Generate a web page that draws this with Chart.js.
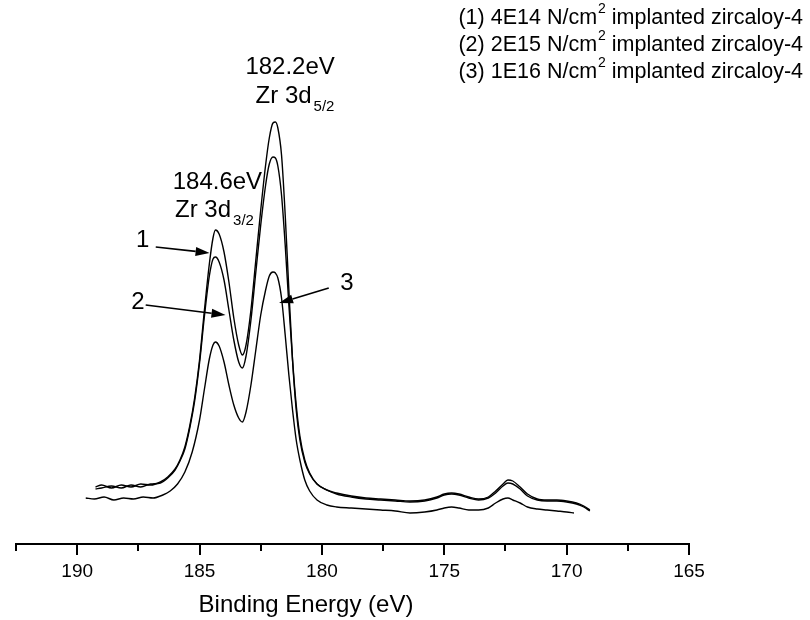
<!DOCTYPE html>
<html><head><meta charset="utf-8">
<script src="https://cdn.jsdelivr.net/npm/chart.js@4/dist/chart.umd.min.js"></script>
<style>html,body{margin:0;padding:0;background:#fff}</style>
</head><body>
<canvas id="c" width="810" height="620"></canvas>
<script>
// Binding energy (eV) grid for spectra 1 and 2
const energy12 = [189.25,189.0,188.6,188.2,187.8,187.4,187.0,186.6,186.3,186.0,185.8,185.6,185.4,185.2,185.0,184.8,184.6,184.45,184.35,184.2,184.0,183.8,183.6,183.4,183.25,183.1,182.9,182.7,182.5,182.3,182.15,182.0,181.9,181.8,181.65,181.5,181.35,181.2,181.05,180.9,180.7,180.5,180.2,179.8,179.4,178.8,178.2,177.6,177.0,176.4,175.8,175.3,175.0,174.7,174.4,174.0,173.6,173.2,172.9,172.6,172.4,172.2,171.9,171.6,171.2,170.8,170.4,170.0,169.6,169.3,169.05];
// (1) 4E14 N/cm2 intensity (a.u.)
const intensity1 = [57,59,56,59,57,60,59,62,67,75,84,97,118,146,184,234,280,306,314,310,292,262,226,199,189,199,234,284,334,379,406,421,422,416,389,329,254,184,134,104,82,70,60,54,51,48,46,45,44,43,44,47,50,51,50,47,45,47,53,60,64,63,57,50,45,44,44,43,41,38,34];
// (2) 2E15 N/cm2 intensity (a.u.)
const intensity2 = [55,56,58,56,59,57,60,61,66,74,83,95,116,143,181,228,268,285,287,282,264,234,204,182,176,188,224,272,319,359,380,387,386,378,349,299,239,184,139,108,84,71,60,54,50,47,45,44,43,42,43,46,49,50,49,46,44,46,51,58,61,60,55,48,44,43,43,42,40,37,33];
// Binding energy grid for spectrum 3
const energy3 = [189.65,189.3,188.9,188.5,188.1,187.7,187.3,186.9,186.5,186.2,185.9,185.6,185.3,185.0,184.8,184.6,184.45,184.35,184.2,184.0,183.8,183.6,183.4,183.25,183.1,182.9,182.7,182.5,182.3,182.15,182.0,181.9,181.8,181.65,181.5,181.35,181.2,181.05,180.9,180.7,180.5,180.2,179.8,179.4,178.8,178.2,177.6,177.0,176.4,175.8,175.3,175.0,174.7,174.4,174.0,173.6,173.2,172.9,172.6,172.4,172.2,171.9,171.6,171.2,170.8,170.4,170.0,169.7];
// (3) 1E16 N/cm2 intensity (a.u.)
const intensity3 = [46,45,47,44,46,45,47,46,49,53,60,72,92,124,155,185,199,202,198,182,159,139,126,122,132,159,194,229,254,268,272,271,266,246,209,169,134,104,84,64,53,44,39,37,36,35,34,33,31,32,34,36,37,36,34,34,36,41,45,46,44,41,37,35,34,33,32,31];

const xMajorTicks = [190,185,180,175,170,165];
const xMinorTicks = [192.5,187.5,182.5,177.5,172.5,167.5];
const xLimits = [165,192.5];
const yLimits = [0,540];
const doses = ['4E14','2E15','1E16'];
const xTitle = 'Binding Energy (eV)';

const FONT = '"Liberation Sans", Arial, Helvetica, sans-serif';

function toPts(xs, ys){ return xs.map((x,i)=>({x:x, y:ys[i]})); }

// annotations in data coordinates
const peakLabels = [
  {e:181.30, v:477, text:'182.2eV'},
  {e:181.10, v:448, text:'Zr 3d', sub:'5/2'},
  {e:184.27, v:362, text:'184.6eV'},
  {e:184.39, v:334, text:'Zr 3d', sub:'3/2'}
];
const arrows = [
  {label:'1', le:187.32, lv:304, from:[186.79,297], to:[184.59,291]},
  {label:'2', le:187.52, lv:242, from:[187.20,239], to:[183.94,229]},
  {label:'3', le:178.98, lv:261, from:[179.72,256], to:[181.75,241]}
];

const annot = {
  id:'annot',
  afterDraw(chart){
    const ctx = chart.ctx, xs = chart.scales.x, ys = chart.scales.y;
    ctx.save();
    // axis ticks (major + minor)
    ctx.strokeStyle = '#000'; ctx.lineWidth = 2;
    const top = xs.top;
    xs.ticks.forEach(t=>{
      const px = Math.round(xs.getPixelForValue(t.value));
      const major = xMajorTicks.includes(t.value);
      ctx.beginPath(); ctx.moveTo(px, top); ctx.lineTo(px, top + (major?11:7)); ctx.stroke();
    });
    ctx.fillStyle = '#000'; ctx.textBaseline = 'middle';
    // axis title
    ctx.font = '24px ' + FONT; ctx.textAlign = 'center';
    ctx.fillText(xTitle, 306, 605);
    // peak labels
    peakLabels.forEach(p=>{
      const px = xs.getPixelForValue(p.e), py = ys.getPixelForValue(p.v);
      ctx.font = '24px ' + FONT;
      const w1 = ctx.measureText(p.text).width;
      let w2 = 0;
      if (p.sub){ ctx.font = '15px ' + FONT; w2 = ctx.measureText(p.sub).width + 2; }
      const x0 = px - (w1+w2)/2;
      ctx.font = '24px ' + FONT; ctx.textAlign = 'left';
      ctx.fillText(p.text, x0, py);
      if (p.sub){ ctx.font = '15px ' + FONT; ctx.fillText(p.sub, x0 + w1 + 2, py + 11); }
    });
    // arrows
    arrows.forEach(a=>{
      const x1 = xs.getPixelForValue(a.from[0]), y1 = ys.getPixelForValue(a.from[1]);
      const x2 = xs.getPixelForValue(a.to[0]), y2 = ys.getPixelForValue(a.to[1]);
      const ang = Math.atan2(y2-y1, x2-x1);
      const hl = 14, hw = 4.5;
      const bx = x2 - hl*Math.cos(ang), by = y2 - hl*Math.sin(ang);
      ctx.lineWidth = 1.7;
      ctx.beginPath(); ctx.moveTo(x1,y1); ctx.lineTo(bx,by); ctx.stroke();
      ctx.beginPath();
      ctx.moveTo(x2,y2);
      ctx.lineTo(bx + hw*Math.sin(ang), by - hw*Math.cos(ang));
      ctx.lineTo(bx - hw*Math.sin(ang), by + hw*Math.cos(ang));
      ctx.closePath(); ctx.fill();
      ctx.font = '24px ' + FONT; ctx.textAlign = 'center';
      ctx.fillText(a.label, xs.getPixelForValue(a.le), ys.getPixelForValue(a.lv));
    });
    // legend text (top right)
    ctx.textAlign = 'left';
    doses.forEach((d,i)=>{
      const y = 18 + i*27;
      const p1 = '(' + (i+1) + ') ' + d + ' N/cm', sup = '2', p2 = ' implanted zircaloy-4';
      ctx.font = '21.5px ' + FONT; const w1 = ctx.measureText(p1).width, w3 = ctx.measureText(p2).width;
      ctx.font = '14px ' + FONT; const w2 = ctx.measureText(sup).width + 1;
      const x0 = 803 - (w1+w2+w3);
      ctx.font = '21.5px ' + FONT; ctx.fillText(p1, x0, y);
      ctx.font = '14px ' + FONT; ctx.fillText(sup, x0 + w1 + 1, y - 9);
      ctx.font = '21.5px ' + FONT; ctx.fillText(p2, x0 + w1 + w2, y);
    });
    ctx.restore();
  }
};

const lineStyle = {borderColor:'#000', borderWidth:1.4, pointRadius:0, fill:false, cubicInterpolationMode:'monotone'};

new Chart(document.getElementById('c'), {
  type:'line',
  data:{ datasets:[
    Object.assign({label:'(1) '+doses[0], data:toPts(energy12,intensity1)}, lineStyle),
    Object.assign({label:'(2) '+doses[1], data:toPts(energy12,intensity2)}, lineStyle),
    Object.assign({label:'(3) '+doses[2], data:toPts(energy3,intensity3)}, lineStyle)
  ]},
  options:{
    responsive:false, animation:false, devicePixelRatio:1,
    layout:{padding:{left:13, right:121, top:4, bottom:0}},
    plugins:{legend:{display:false}, tooltip:{enabled:false}},
    scales:{
      x:{
        type:'linear', reverse:true, min:xLimits[0], max:xLimits[1],
        afterBuildTicks(s){ s.ticks = xMinorTicks.concat(xMajorTicks).sort((a,b)=>b-a).map(v=>({value:v})); },
        afterFit(s){ s.height = 76; },
        grid:{display:true, drawOnChartArea:false, drawTicks:false},
        border:{display:true, color:'#000', width:2},
        ticks:{autoSkip:false, maxRotation:0, padding:16, color:'#000',
          font:{family:FONT, size:19},
          callback:(v)=> xMajorTicks.includes(v) ? String(v) : ''},
        title:{display:false}
      },
      y:{display:false, min:yLimits[0], max:yLimits[1]}
    }
  },
  plugins:[annot]
});
</script>
</body></html>
